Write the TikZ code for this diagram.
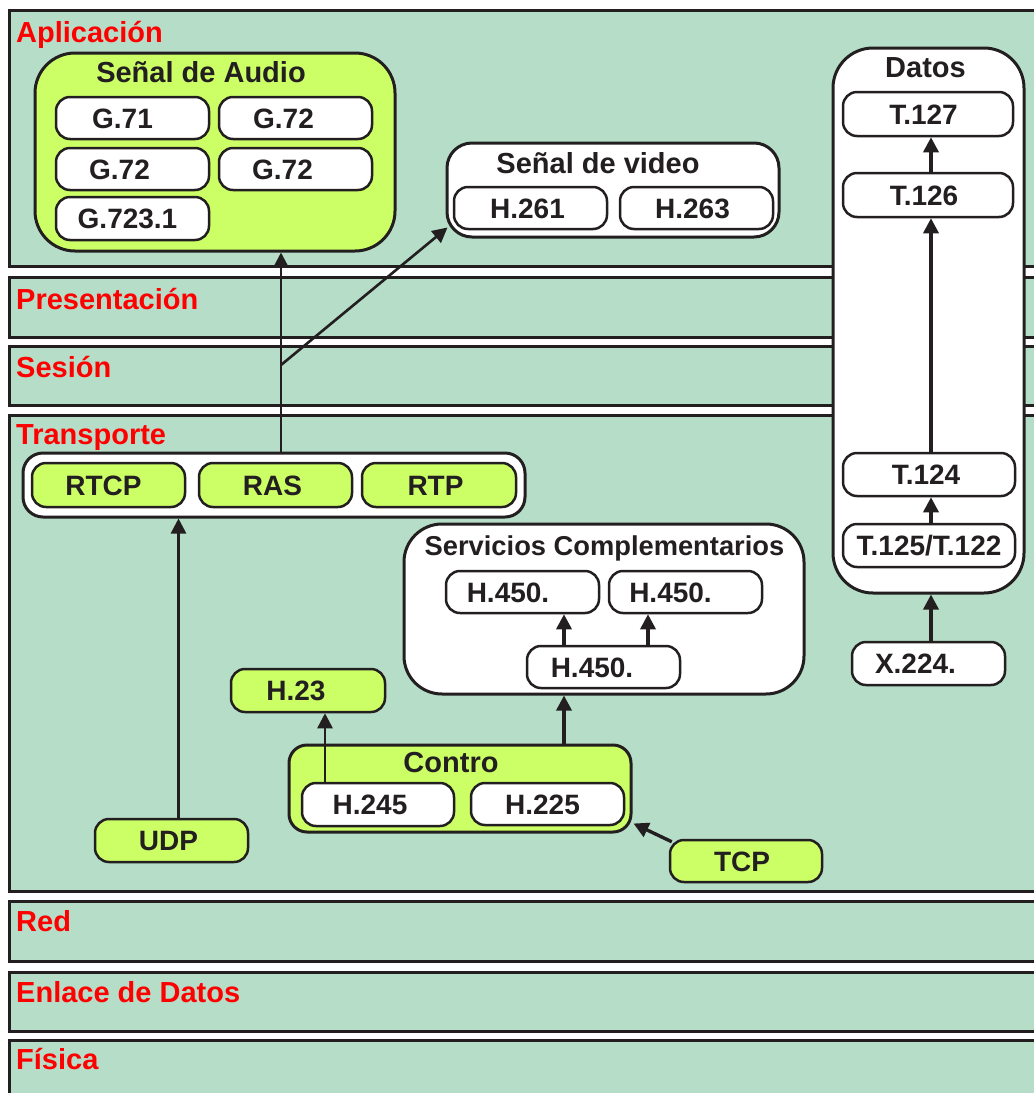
\documentclass[tikz,border=0pt]{standalone}
\usepackage{fontspec}
\setmainfont{Liberation Sans}
\usetikzlibrary{arrows.meta}
\definecolor{band}{HTML}{B5DDC8}
\definecolor{lime}{HTML}{CCFF66}
\definecolor{ink}{HTML}{231F20}
\definecolor{layerred}{HTML}{FF0000}
% trailing space pushes a centred label a little to the left
\newcommand\padr[1]{\hspace*{#1pt}}
\begin{document}
\begin{tikzpicture}[x=1pt,y=-1pt,
  layer/.style={draw=ink, line width=3pt, fill=band},
  layername/.style={anchor=base west, text=layerred, inner sep=0pt,
    font=\fontsize{29}{32}\selectfont\bfseries},
  title/.style={anchor=base, text=ink, inner sep=0pt,
    font=\fontsize{29}{32}\selectfont\bfseries},
  group/.style={draw=ink, line width=3pt, rounded corners=#1, inner sep=0pt},
  item/.style={draw=ink, line width=2.5pt, rounded corners=14pt, fill=white,
    inner sep=0pt, minimum height=43pt, minimum width=153pt,
    text height=20pt, text depth=0pt, text=ink,
    font=\fontsize{28}{30}\selectfont\bfseries},
  gitem/.style={item, fill=lime},
  arrw/.style={draw=ink, line width=2.6pt, -{Triangle[length=15pt,width=15pt]}},
  thickarrw/.style={arrw, line width=3.4pt}
]
\useasboundingbox (0,0) rectangle (1034,1093);

% OSI layer bands
\begin{scope}
  \clip (0,0) rectangle (1034,1093);
  \path[layer] (9,10)   rectangle (1050,266);
  \path[layer] (9,277)  rectangle (1050,337);
  \path[layer] (9,346)  rectangle (1050,405);
  \path[layer] (9,415)  rectangle (1050,891);
  \path[layer] (9,901)  rectangle (1050,961);
  \path[layer] (9,972)  rectangle (1050,1031);
  \path[layer] (9,1040) rectangle (1050,1110);
\end{scope}

\node[layername] (lapl) at (16,42)   {Aplicación};
\node[layername] (lpre) at (16,309)  {Presentación};
\node[layername] (lses) at (16,377)  {Sesión};
\node[layername] (ltra) at (16,444)  {Transporte};
\node[layername] (lred) at (16,931)  {Red};
\node[layername] (lenl) at (16,1002) {Enlace de Datos};
\node[layername] (lfis) at (16,1069) {Física};

% data stack (T.120 family)
\node[group=40pt, fill=white, minimum width=191pt, minimum height=545pt] (datos) at (928.5,320.5) {};
\node[title] (datost) at (925.5,77) {Datos};
\node[item, minimum width=170pt, minimum height=44pt] (t127) at (928,114)   {T.127\padr{9}};
\node[item, minimum width=170pt, minimum height=44pt] (t126) at (928,195)   {T.126\padr{8}};
\node[item, minimum width=172pt] (t124) at (929,474.5) {T.124\padr{6}};
\node[item, minimum width=172pt] (t125) at (929,545.5) {T.125/T.122};
\node[item] (x224) at (928.5,663.5) {X.224.\padr{26}};

% audio codecs
\node[group=40pt, fill=lime, minimum width=360pt, minimum height=198pt] (audio) at (215,152) {};
\node[title] (audiot) at (201,82) {Señal de Audio};
\node[item, minimum height=42pt] (g1) at (132.5,118) {G.71\padr{20}};
\node[item, minimum height=42pt] (g2) at (295.5,118) {G.72\padr{24}};
\node[item, minimum height=42pt] (g3) at (132.5,169) {G.72\padr{26}};
\node[item, minimum height=42pt] (g4) at (295.5,169) {G.72\padr{26}};
\node[item] (g5) at (132.5,218.5) {G.723.1\padr{10}};

% video codecs
\node[group=25pt, fill=white, minimum width=332pt, minimum height=94pt] (vid) at (613,190) {};
\node[title] (vidt) at (598,173) {Señal de video};
\node[item, minimum height=42pt] (h261) at (530.5,208) {H.261\padr{6}};
\node[item, minimum height=42pt] (h263) at (696.5,208) {H.263\padr{8}};

% transport protocols
\node[group=20pt, fill=white, minimum width=502pt, minimum height=64pt] (tgrp) at (274,485) {};
\node[gitem, minimum height=44pt] (rtcp) at (108.5,485) {RTCP\padr{10}};
\node[gitem, minimum height=44pt] (ras)  at (275.5,485) {RAS\padr{6}};
\node[gitem, minimum height=44pt, minimum width=154pt] (rtp) at (439,485) {RTP\padr{7}};
\node[gitem] (udp) at (171.5,840.5) {UDP\padr{6}};
\node[gitem, minimum width=154pt] (h23) at (308,690.5) {H.23\padr{24}};
\node[gitem, minimum width=152pt, minimum height=42pt] (tcp) at (746,861) {TCP\padr{8}};

% supplementary services
\node[group=38pt, fill=white, minimum width=400pt, minimum height=170pt] (serv) at (604,609) {};
\node[title, font=\fontsize{27.3}{30}\selectfont\bfseries] (servt) at (604.5,555) {Servicios Complementarios};
\node[item, minimum height=42pt] (h450a) at (522.5,592) {H.450.\padr{29}};
\node[item, minimum height=42pt] (h450b) at (685.5,592) {H.450.\padr{30}};
\node[item, minimum height=42pt] (h450c) at (603.5,667) {H.450.\padr{23}};

% control
\node[group=18pt, fill=lime, minimum width=342pt, minimum height=87pt] (ctrl) at (460,788.5) {};
\node[title] (ctrlt) at (451,772) {Contro};
\node[item, minimum width=152pt] (h245) at (378,804.5) {H.245\padr{16}};
\node[item, minimum height=42pt] (h225) at (547.5,804) {H.225\padr{10}};

% connectors
\coordinate (dcol) at (931,0);
\coordinate (split) at (281,365);
\coordinate (udpx) at (178.5,0);
\coordinate (h245x) at (325,0);
\coordinate (servx) at (564,0);
\coordinate (h450x) at (648,0);
\coordinate (vidin) at ([xshift=2pt,yshift=11pt]vid.south west);

\draw[thickarrw] (t126.north -| dcol) -- (t127.south -| dcol);
\draw[thickarrw] (t124.north -| dcol) -- (t126.south -| dcol);
\draw[thickarrw] (t125.north -| dcol) -- (t124.south -| dcol);
\draw[thickarrw] (x224.north -| dcol) -- (datos.south -| dcol);

\draw[arrw] (tgrp.north -| split) -- (audio.south -| split);
\draw[arrw] (split) -- (vidin);
\draw[arrw] (udp.north -| udpx) -- (tgrp.south -| udpx);
\draw[arrw] (h245.north -| h245x) -- (h23.south -| h245x);
\draw[thickarrw] (ctrl.north -| servx) -- (serv.south -| servx);
\draw[thickarrw] (h450c.north -| servx) -- (h450a.south -| servx);
\draw[thickarrw] (h450c.north -| h450x) -- (h450b.south -| h450x);
\draw[thickarrw] ([xshift=3pt,yshift=-3pt]tcp.north west) -- ([xshift=1pt,yshift=10pt]ctrl.south east);
\end{tikzpicture}
\end{document}
